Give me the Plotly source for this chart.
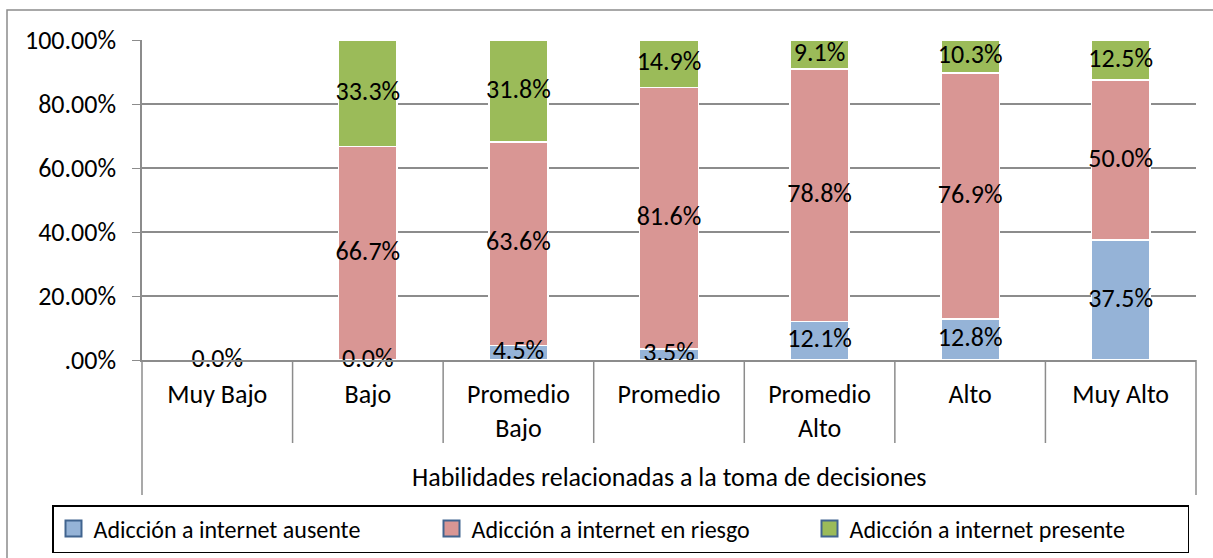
import plotly.graph_objects as go

# datos (porcentajes)
niveles = ["Muy Bajo", "Bajo", "Promedio<br>Bajo", "Promedio", "Promedio<br>Alto", "Alto", "Muy Alto"]
ausente = [0.0, 0.0, 4.5, 3.5, 12.1, 12.8, 37.5]
riesgo = [0.0, 66.7, 63.6, 81.6, 78.8, 76.9, 50.0]
presente = [0.0, 33.3, 31.8, 14.9, 9.1, 10.3, 12.5]
nombres = ["Adicción a internet ausente", "Adicción a internet en riesgo", "Adicción a internet presente"]
colores = ["#95B3D7", "#D99694", "#9BBB59"]
y_vals = [0, 20, 40, 60, 80, 100]
y_text = [".00%", "20.00%", "40.00%", "60.00%", "80.00%", "100.00%"]
titulo_x = "Habilidades relacionadas a la toma de decisiones"

FONT = "Carlito, Lato, sans-serif"
GRIS = "#8C8C8C"
FS = 26

fig = go.Figure()
base = [0.0] * len(niveles)
for i, (nombre, vals, color) in enumerate(zip(nombres, [ausente, riesgo, presente], colores)):
    fig.add_trace(go.Bar(x=niveles, y=vals, name=nombre, showlegend=False,
                         marker=dict(color=color, line=dict(color="white", width=1.5))))
    # etiquetas centradas en cada segmento (los ceros solo una vez, sobre el eje)
    centros = [b + v / 2 for b, v in zip(base, vals)]
    textos = ["%.1f%%" % v if (v > 0 or i == 0) else "" for v in vals]
    fig.add_trace(go.Scatter(x=niveles, y=centros, text=textos, mode="text", showlegend=False,
                             textfont=dict(size=FS, color="black", family=FONT), hoverinfo="skip",
                             cliponaxis=False))
    base = [b + v for b, v in zip(base, vals)]

# entradas de leyenda con cuadros mas grandes
for nombre, color in zip(nombres, colores):
    fig.add_trace(go.Scatter(x=[None], y=[None], mode="markers", name=nombre, xaxis="x2", yaxis="y2",
                             marker=dict(symbol="square", size=16, color=color,
                                         line=dict(color="#41648F", width=2))))

# separadores de categorias bajo el eje
n = len(niveles)
for k in range(n + 1):
    bajo = -135 / 320 if k in (0, n) else -83 / 320
    fig.add_shape(type="line", xref="paper", yref="paper", x0=k / n, x1=k / n, y0=0, y1=bajo,
                  line=dict(color=GRIS, width=1.5))

# marco exterior
fig.add_shape(type="rect", xref="paper", yref="paper", x0=(7 - 142) / 1054, x1=(1220 - 142) / 1054,
              y0=-1, y1=1 + 30 / 320, line=dict(color=GRIS, width=1.5))

fig.add_annotation(text=titulo_x, xref="paper", yref="paper", x=0.5, y=-(477 - 360) / 320,
                   showarrow=False, yanchor="middle", font=dict(size=FS, color="black", family=FONT))

fig.update_layout(
    barmode="stack", bargap=0.61,
    width=1213, height=558,
    margin=dict(l=142, r=17, t=40, b=198, autoexpand=False),
    paper_bgcolor="white", plot_bgcolor="white",
    font=dict(family=FONT, size=FS, color="black"),
    xaxis=dict(type="category", showline=True, linecolor=GRIS, linewidth=1.5, ticks="",
               showgrid=False, ticklabelstandoff=10, tickfont=dict(size=FS)),
    yaxis=dict(range=[0, 100], tickvals=y_vals, ticktext=y_text, showgrid=True, gridcolor=GRIS,
               gridwidth=1.5, showline=True, linecolor=GRIS, linewidth=1.5, ticks="outside",
               ticklen=8, tickcolor=GRIS, zeroline=False, ticklabelstandoff=11),
    xaxis2=dict(overlaying="x", visible=False),
    yaxis2=dict(overlaying="y", visible=False),
    legend=dict(orientation="h", xref="paper", yref="paper", x=(52 - 142) / 1054, y=-(553 - 360) / 320,
                xanchor="left", yanchor="bottom", bordercolor="black", borderwidth=1.5,
                bgcolor="white", entrywidth=333, entrywidthmode="pixels", traceorder="normal",
                font=dict(size=24, family=FONT)),
)

fig.write_html("out.html", config={"displayModeBar": False},
               post_script="document.body.style.margin='0px';")
